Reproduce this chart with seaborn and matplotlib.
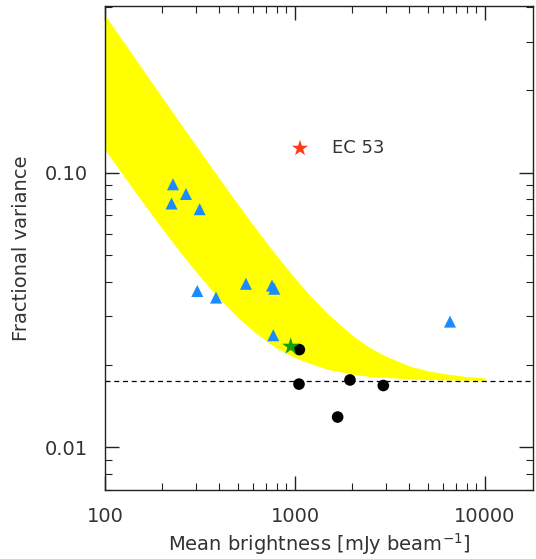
import numpy as np
import pandas as pd
import matplotlib
matplotlib.use("Agg")
import matplotlib.pyplot as plt
import matplotlib.ticker as mticker
import seaborn as sns

# band edges (yellow region)
band_x = [100, 120, 150, 180, 200, 250, 300, 400, 500, 600, 700, 800, 1000,
          1200, 1500, 2000, 2500, 3000, 4000, 5000, 6000, 8000, 10000]
band_hi = [0.374, 0.312, 0.250, 0.2085, 0.188, 0.1506, 0.126, 0.0951, 0.0768, 0.0647, 0.0562, 0.0499, 0.0413,
           0.0357, 0.0305, 0.0256, 0.0230, 0.0215, 0.0198, 0.0190, 0.0186, 0.0181, 0.0179]
band_lo = [0.121, 0.1015, 0.0819, 0.0689, 0.0625, 0.0511, 0.0437, 0.0347, 0.0297, 0.0266, 0.0245, 0.0230, 0.0212,
           0.0202, 0.0192, 0.0185, 0.0181, 0.0180, 0.01776, 0.01767, 0.01761, 0.01756, 0.01754]

floor_level = 0.0175

# blue triangles
tri_x = [228, 267, 224, 315, 306, 384, 552, 757, 778, 769, 6546]
tri_y = [0.0907, 0.0836, 0.0772, 0.0736, 0.0371, 0.0351, 0.0394, 0.0388, 0.0378, 0.0256, 0.0287]

# black circles
dot_x = [1054, 1050, 1948, 2917, 1677]
dot_y = [0.0227, 0.0170, 0.0176, 0.0168, 0.0129]

# stars
green_x, green_y = [949], [0.0233]
red_x, red_y = [1063], [0.1226]
red_label = "EC 53"

sns.set_theme(style="ticks")
plt.rcParams['font.family'] = ['DejaVu Sans']
txt = '#333333'

fig = plt.figure(figsize=(5.36, 5.59), dpi=100)
ax = fig.add_axes([105/536, 69/559, 428/536, 484/559])

ax.fill_between(band_x, band_lo, band_hi, color='#ffff00', linewidth=0, zorder=1)
ax.axhline(floor_level, color='black', linestyle=(0, (4, 3)), linewidth=0.9, zorder=2)

tri = pd.DataFrame({'x': tri_x, 'y': tri_y})
dots = pd.DataFrame({'x': dot_x, 'y': dot_y})
sns.scatterplot(data=tri, x='x', y='y', marker='^', s=75, color='#1a8cff',
                edgecolor='none', ax=ax, zorder=3)
sns.scatterplot(data=dots, x='x', y='y', marker='o', s=70, color='black',
                edgecolor='none', ax=ax, zorder=3)
ax.scatter(green_x, green_y, marker='*', s=170, color='#12a012', edgecolor='none', zorder=4)
ax.scatter(red_x, red_y, marker='*', s=150, color='#ff3a1a', edgecolor='none', zorder=4)
ax.text(1567, red_y[0], red_label, fontsize=13, color=txt, va='center', ha='left')

ax.set_xscale('log')
ax.set_yscale('log')
ax.set_xlim(100, 17900)
ax.set_ylim(0.0070, 0.404)

ax.set_xticks([100, 1000, 10000])
ax.xaxis.set_major_formatter(mticker.FixedFormatter(['100', '1000', '10000']))
ax.set_yticks([0.01, 0.1])
ax.yaxis.set_major_formatter(mticker.FixedFormatter(['0.01', '0.10']))
ax.xaxis.set_minor_locator(mticker.LogLocator(base=10, subs=np.arange(2, 10)))
ax.yaxis.set_minor_locator(mticker.LogLocator(base=10, subs=np.arange(2, 10)))
ax.xaxis.set_minor_formatter(mticker.NullFormatter())
ax.yaxis.set_minor_formatter(mticker.NullFormatter())

ax.tick_params(which='both', direction='in', top=True, right=True, color='#222222')
ax.tick_params(which='major', length=10, width=1.0, labelsize=14, labelcolor=txt, pad=12)
ax.tick_params(which='minor', length=5, width=0.8)
for sp in ax.spines.values():
    sp.set_color('#222222')
    sp.set_linewidth(1.0)

ax.set_xlabel('Mean brightness [mJy beam$^{-1}$]', fontsize=14, color=txt, labelpad=4)
ax.set_ylabel('Fractional variance', fontsize=14, color=txt, labelpad=10)

fig.savefig('out.png', dpi=100)
